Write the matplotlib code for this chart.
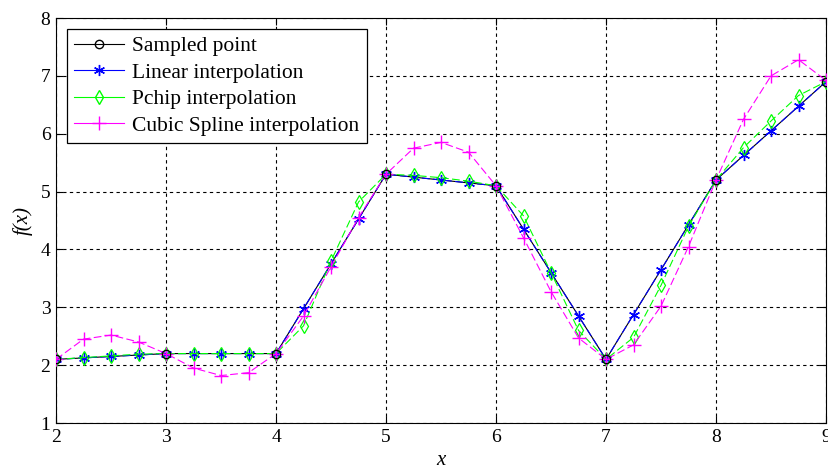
import matplotlib.pyplot as plt
from matplotlib.lines import Line2D

plt.rcParams['font.family'] = ['Liberation Serif', 'DejaVu Serif']

# sampled points
xs = [2, 3, 4, 5, 6, 7, 8, 9]
ys = [2.1, 2.2, 2.2, 5.3, 5.1, 2.1, 5.2, 6.9]

# interpolation grid (step 0.25)
xi = [2, 2.25, 2.5, 2.75, 3, 3.25, 3.5, 3.75, 4, 4.25, 4.5, 4.75, 5, 5.25, 5.5, 5.75,
      6, 6.25, 6.5, 6.75, 7, 7.25, 7.5, 7.75, 8, 8.25, 8.5, 8.75, 9]

y_linear = [2.1, 2.125, 2.15, 2.175, 2.2, 2.2, 2.2, 2.2, 2.2, 2.975, 3.75, 4.525, 5.3,
            5.25, 5.2, 5.15, 5.1, 4.35, 3.6, 2.85, 2.1, 2.875, 3.65, 4.425, 5.2,
            5.625, 6.05, 6.475, 6.9]
y_pchip = [2.1, 2.13, 2.16, 2.19, 2.2, 2.2, 2.2, 2.2, 2.2, 2.68, 3.8, 4.82, 5.3,
           5.28, 5.24, 5.18, 5.1, 4.58, 3.6, 2.6, 2.1, 2.48, 3.38, 4.4, 5.2,
           5.76, 6.22, 6.66, 6.9]
y_spline = [2.1, 2.45, 2.52, 2.4, 2.2, 1.95, 1.82, 1.87, 2.2, 2.85, 3.7, 4.55, 5.3,
            5.75, 5.85, 5.68, 5.1, 4.2, 3.27, 2.47, 2.1, 2.35, 3.02, 4.05, 5.2,
            6.25, 7.0, 7.28, 6.92]

fig = plt.figure(figsize=(8.29, 4.70), dpi=100)
ax = fig.add_axes([0.0676, 0.1, 0.9288, 0.8617])

dash = (0, (7, 3))
star = (6, 2, 0)  # asterisk
ax.plot(xs, ys, 'k-', lw=0.8, zorder=2)
ax.plot(xi, y_linear, color='blue', ls=dash, lw=0.8, marker=star, ms=8, mew=1, zorder=3)
ax.plot(xi, y_pchip, color='#00ff00', ls=dash, lw=0.8, marker='d', ms=7,
        mfc='none', mew=0.9, zorder=3)
ax.plot(xi, y_spline, color='magenta', ls=dash, lw=0.8, marker='+', ms=10, mew=1, zorder=3)
ax.plot(xs, ys, 'ko', ms=6, mfc='none', mew=0.9, zorder=4)

ax.set_xlim(2, 9)
ax.set_ylim(1, 8)
ax.set_xticks(range(2, 10))
ax.set_yticks(range(1, 9))
ax.tick_params(direction='in', top=True, right=True, labelsize=14, length=5, pad=4)
ax.grid(True, color='black', ls=(0, (3, 3)), lw=0.8)
ax.set_xlabel('x', style='italic', fontsize=15, labelpad=4)
ax.set_ylabel('f(x)', style='italic', fontsize=15, labelpad=6)

handles = [
    Line2D([], [], color='black', lw=0.8, marker='o', mfc='none', ms=6),
    Line2D([], [], color='blue', lw=0.8, marker=star, ms=8),
    Line2D([], [], color='#00ff00', lw=0.8, marker='d', mfc='none', ms=7),
    Line2D([], [], color='magenta', lw=0.8, marker='+', ms=10),
]
labels = ['Sampled point', 'Linear interpolation', 'Pchip interpolation',
          'Cubic Spline interpolation']
leg = ax.legend(handles, labels, loc='upper left', fontsize=15.5, fancybox=False,
                edgecolor='black', framealpha=1, borderaxespad=0.5,
                handlelength=2.3, labelspacing=0.3, handletextpad=0.4,
                borderpad=0.35)
leg.get_frame().set_linewidth(0.9)

fig.savefig('out.png', dpi=100)
